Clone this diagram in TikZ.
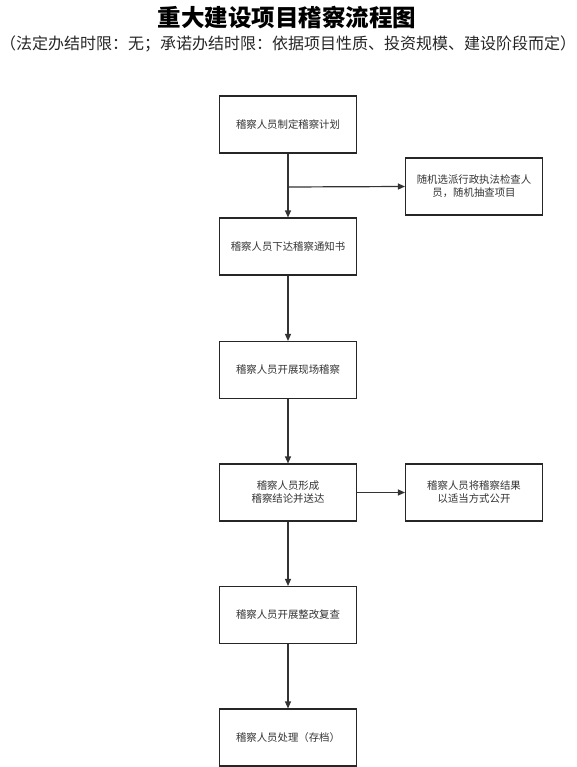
\documentclass[tikz,border=0pt]{standalone}
\usepackage{fontspec}
\setmainfont{Noto Sans CJK SC}
\usetikzlibrary{arrows.meta}
\begin{document}
\begin{tikzpicture}[x=1pt,y=-1pt,
  box/.style={draw=black!85,line width=1.1pt,minimum width=137pt,minimum height=57pt,inner sep=2pt,align=center,font=\fontsize{10.4}{13}\selectfont,text=black!80},
  conn/.style={draw=black!80,line width=1.2pt,-{Triangle[length=7pt,width=6pt]}}]
\useasboundingbox (0,0) rectangle (576,767);
\node[font=\bfseries\fontsize{23.5}{26}\selectfont] (title) at (287,18) {重大建设项目稽察流程图};
\node[font=\fontsize{16}{18}\selectfont,text=black!85] (sub) at (288,44) {（法定办结时限：无；承诺办结时限：依据项目性质、投资规模、建设阶段而定）};
\node[box] (b1) at (288,124.5) {稽察人员制定稽察计划};
\node[box] (s1) at (474,186.5) {随机选派行政执法检查人\\员，随机抽查项目};
\node[box] (b2) at (288,246.5) {稽察人员下达稽察通知书};
\node[box] (b3) at (288,370) {稽察人员开展现场稽察};
\node[box] (b4) at (288,492.5) {稽察人员形成\\稽察结论并送达};
\node[box] (s2) at (474,492.5) {稽察人员将稽察结果\\以适当方式公开};
\node[box] (b5) at (288,615) {稽察人员开展整改复查};
\node[box] (b6) at (288,737.5) {稽察人员处理（存档）};
\coordinate (j1) at (288,187);
\draw[conn] (b1) -- (b2);
\draw[conn] (j1) -- (s1.west);
\draw[conn] (b2) -- (b3);
\draw[conn] (b3) -- (b4);
\draw[conn] (b4) -- (s2);
\draw[conn] (b4) -- (b5);
\draw[conn] (b5) -- (b6);
\end{tikzpicture}
\end{document}
